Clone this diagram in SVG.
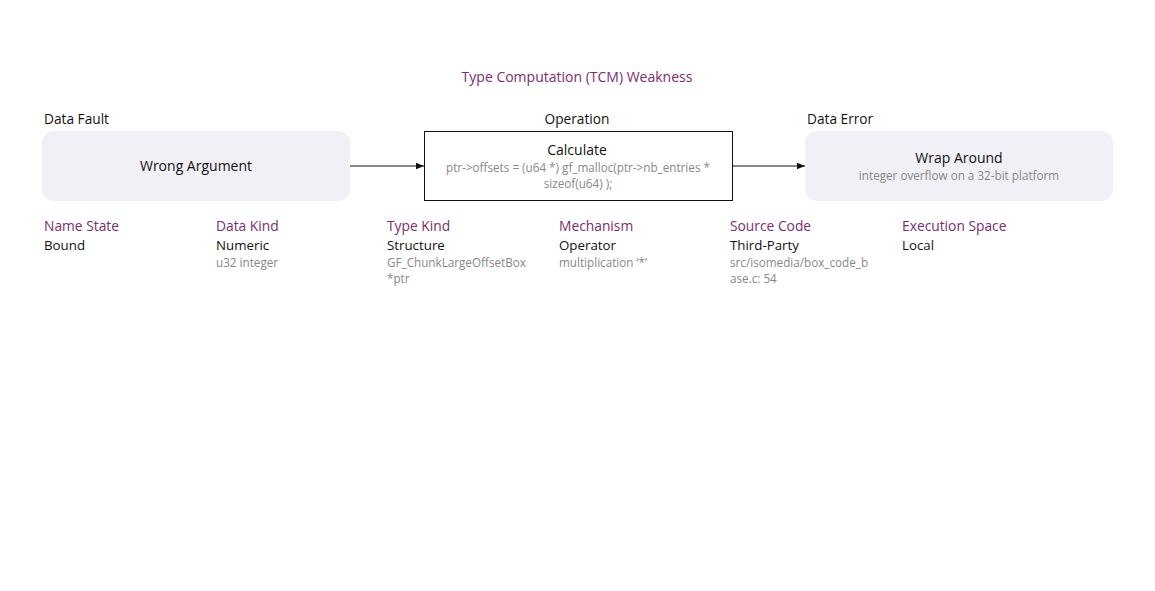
<svg xmlns="http://www.w3.org/2000/svg" width="1155" height="591" viewBox="0 0 1155 591">
<defs>
<style>
text{font-family:"Open Sans","Liberation Sans",sans-serif}
.title{font-size:14px;fill:#7a2e6e}
.lbl{font-size:13.7px;fill:#111}
.main{font-size:14px;fill:#111}
.sub{font-size:11.7px;fill:#888}
.hd{font-size:13.8px;fill:#7a2e6e}
.val{font-size:13.3px;fill:#111}
.soft{fill:#f1f0f6}
.conn{stroke:#111;stroke-width:1;fill:none}
</style>
<marker id="arr" viewBox="0 0 10 10" refX="10" refY="5" markerWidth="8" markerHeight="8" markerUnits="userSpaceOnUse" orient="auto">
<path d="M0,1 L10,5 L0,9 z" fill="#111"/>
</marker>
</defs>
<rect width="1155" height="591" fill="#fff"/>
<text class="title" x="577" y="82" text-anchor="middle">Type Computation (TCM) Weakness</text>
<g id="data-fault">
<text class="lbl" x="44" y="124">Data Fault</text>
<rect class="soft" x="42" y="131" width="308" height="70" rx="12"/>
<text class="main" x="196" y="171" text-anchor="middle">Wrong Argument</text>
</g>
<g id="operation">
<text class="lbl" x="577" y="124" text-anchor="middle">Operation</text>
<rect x="424.5" y="131.5" width="308" height="69" fill="#fff" stroke="#111"/>
<text class="main" x="577" y="155" text-anchor="middle">Calculate</text>
<text class="sub" x="578" y="172" text-anchor="middle">ptr-&gt;offsets = (u64 *) gf_malloc(ptr-&gt;nb_entries *</text>
<text class="sub" x="578" y="188" text-anchor="middle">sizeof(u64) );</text>
</g>
<g id="data-error">
<text class="lbl" x="807" y="124">Data Error</text>
<rect class="soft" x="805" y="131" width="308" height="70" rx="12"/>
<text class="main" x="959" y="163" text-anchor="middle">Wrap Around</text>
<text class="sub" x="959" y="180" text-anchor="middle">integer overflow on a 32-bit platform</text>
</g>
<g id="connectors">
<line class="conn" x1="350" y1="166" x2="424" y2="166" marker-end="url(#arr)"/>
<line class="conn" x1="733" y1="166" x2="805" y2="166" marker-end="url(#arr)"/>
</g>
<g id="attr-name-state">
<text class="hd" x="44" y="231">Name State</text>
<text class="val" x="44" y="250">Bound</text>
</g>
<g id="attr-data-kind">
<text class="hd" x="216" y="231">Data Kind</text>
<text class="val" x="216" y="250">Numeric</text>
<text class="sub" x="216" y="267">u32 integer</text>
</g>
<g id="attr-type-kind">
<text class="hd" x="387" y="231">Type Kind</text>
<text class="val" x="387" y="250">Structure</text>
<text class="sub" x="387" y="267">GF_ChunkLargeOffsetBox</text>
<text class="sub" x="387" y="283">*ptr</text>
</g>
<g id="attr-mechanism">
<text class="hd" x="559" y="231">Mechanism</text>
<text class="val" x="559" y="250">Operator</text>
<text class="sub" x="559" y="267">multiplication ‘*’</text>
</g>
<g id="attr-source-code">
<text class="hd" x="730" y="231">Source Code</text>
<text class="val" x="730" y="250">Third-Party</text>
<text class="sub" x="730" y="267">src/isomedia/box_code_b</text>
<text class="sub" x="730" y="283">ase.c: 54</text>
</g>
<g id="attr-execution-space">
<text class="hd" x="902" y="231">Execution Space</text>
<text class="val" x="902" y="250">Local</text>
</g>
</svg>
